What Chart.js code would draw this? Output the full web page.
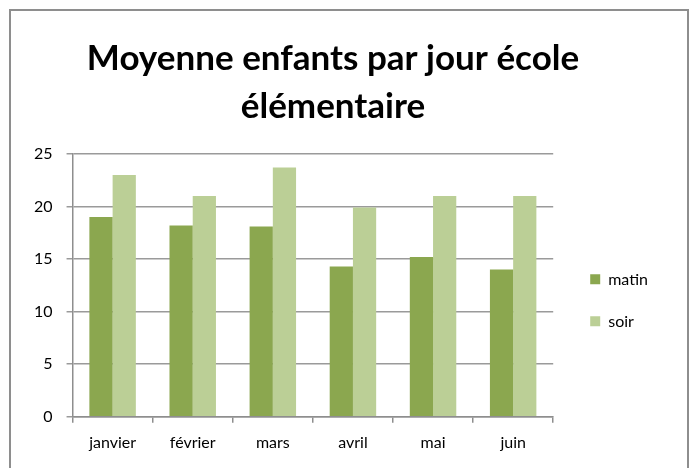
<!DOCTYPE html>
<html>
<head>
<meta charset="utf-8">
<script src="https://cdn.jsdelivr.net/npm/chart.js@4"></script>
<style>
    body { margin: 0; background: #fff; }
    #frame { position: absolute; left: 9px; top: 9px; width: 676px; height: 480px; border: 2px solid #8e8e8e; }
    #wrap { position: absolute; left: 0; top: 0; width: 697px; height: 468px; }
</style>
</head>
<body>
<div id="frame"></div>
<div id="wrap"><canvas id="chart"></canvas></div>
<script>
// Données
const months = ['janvier', 'février', 'mars', 'avril', 'mai', 'juin'];
const matin = [19, 18.2, 18.1, 14.3, 15.2, 14];
const soir = [23, 21, 23.7, 19.9, 21, 21];
const yTicks = [0, 5, 10, 15, 20, 25];

const labelFont = { family: 'Lato', size: 16 };

// legend box a bit wider, and its items pushed right like in the original
const legendPlace = {
    id: 'legendPlace',
    beforeInit(chart) {
        const fit = chart.legend.fit;
        chart.legend.fit = function() {
            fit.call(this);
            this.width += 6;
        };
    },
    afterLayout(chart) {
        chart.legend.left += 11;
        chart.legend.right += 11;
    }
};

new Chart(document.getElementById('chart'), {
    type: 'bar',
    data: {
        labels: months,
        datasets: [
            {
                label: 'matin',
                data: matin,
                backgroundColor: '#8ba74f',
                borderWidth: 0
            },
            {
                label: 'soir',
                data: soir,
                backgroundColor: '#bbcf96',
                borderWidth: 0
            }
        ]
    },
    options: {
        responsive: true,
        maintainAspectRatio: false,
        animation: false,
        layout: {
            padding: { left: 13, right: 44, top: 35, bottom: 6 }
        },
        datasets: {
            bar: { categoryPercentage: 0.58, barPercentage: 1 }
        },
        plugins: {
            title: {
                display: true,
                text: ['Moyenne enfants par jour école', 'élémentaire'],
                color: '#000',
                font: { family: 'Lato', size: 35, weight: 'bold', lineHeight: 1.37 },
                padding: { top: 0, bottom: 23 }
            },
            legend: {
                position: 'right',
                fullSize: false,
                title: {
                    display: true,
                    text: ' ',
                    font: { size: 10, lineHeight: 1.2 },
                    padding: 9
                },
                labels: {
                    color: '#000',
                    font: labelFont,
                    boxWidth: 10,
                    boxHeight: 10,
                    padding: 26
                }
            },
            tooltip: { enabled: false }
        },
        scales: {
            x: {
                grid: {
                    drawOnChartArea: false,
                    drawTicks: true,
                    tickLength: 6,
                    color: '#8e8e8e',
                    lineWidth: 1.5
                },
                border: { color: '#8e8e8e', width: 1.5 },
                ticks: { color: '#000', font: labelFont, padding: 10 }
            },
            y: {
                min: 0,
                max: 25,
                afterBuildTicks: function(axis) {
                    axis.ticks = yTicks.map(v => ({ value: v }));
                },
                afterFit: function(axis) {
                    axis.width += 7;
                },
                grid: {
                    color: '#9a9a9a',
                    lineWidth: 1.5,
                    tickLength: 6
                },
                border: { color: '#8e8e8e', width: 1.5 },
                ticks: { color: '#000', font: labelFont, padding: 14 }
            }
        }
    },
    plugins: [legendPlace]
});
</script>
</body>
</html>
